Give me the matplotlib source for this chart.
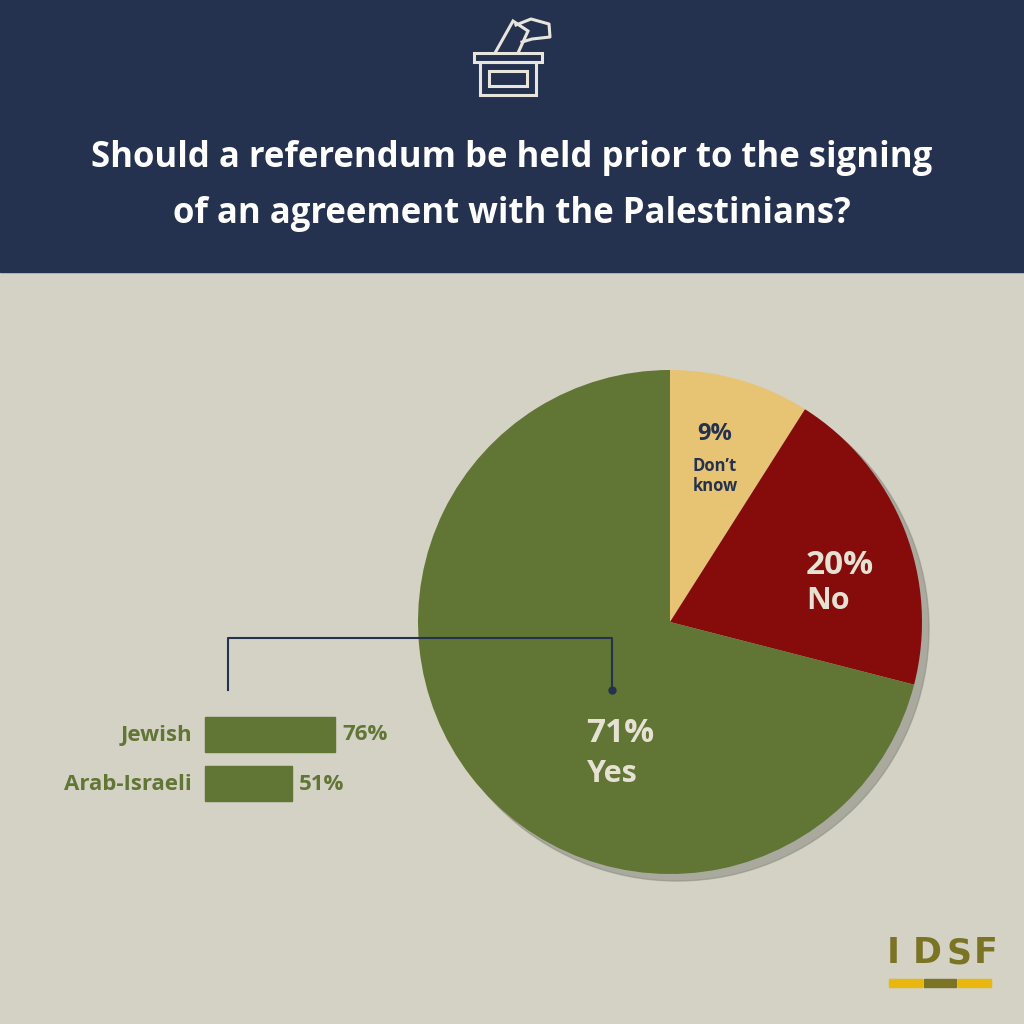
import matplotlib.pyplot as plt
from matplotlib.patches import Rectangle, Circle, Polygon

plt.rcParams['font.family'] = ['Open Sans', 'DejaVu Sans']

labels = ["Don\u2019t\nknow", "No", "Yes"]
shares = [9, 20, 71]
pie_colors = ["#e6c474", "#860c0c", "#617534"]

groups = ["Jewish", "Arab-Israeli"]
group_yes = [76, 51]

navy = "#243250"
bg = "#d3d2c5"
green = "#617534"

fig = plt.figure(figsize=(10.24, 10.24), dpi=100)
fig.patch.set_facecolor(bg)
ax = fig.add_axes([0, 0, 1, 1])
ax.set_xlim(0, 1024)
ax.set_ylim(0, 1024)
ax.set_aspect("equal")
ax.axis("off")

# header
ax.add_patch(Rectangle((0, 752), 1024, 272, color=navy, zorder=0))
ax.text(512, 866, "Should a referendum be held prior to the signing",
        ha="center", va="center", color="white", fontsize=25, fontweight="bold")
ax.text(512, 810, "of an agreement with the Palestinians?",
        ha="center", va="center", color="white", fontsize=25, fontweight="bold")

# ballot box icon
ic = "#e8e6dc"
ax.add_patch(Rectangle((474, 962), 68, 9, fill=False, ec=ic, lw=2.2))
ax.add_patch(Rectangle((480, 929), 56, 33, fill=False, ec=ic, lw=2.2))
ax.add_patch(Rectangle((489, 938), 38, 15, fill=False, ec=ic, lw=2.2))
ax.add_patch(Polygon([(495, 971), (513, 1003), (528, 993), (518, 971)], closed=False,
                     fill=False, ec=ic, lw=2.2))
ax.plot([516, 531, 549, 550, 532, 522], [999, 1005, 1000, 987, 985, 982], color=ic, lw=2.2)

# pie with shadow
cx, cy, r = 670, 402, 252
ax.add_patch(Circle((cx + 7, cy - 7), r, color="#8f8e84", alpha=0.6, zorder=1))
wedges, _ = ax.pie(shares, colors=pie_colors, startangle=90, counterclock=False,
                   radius=r, center=(cx, cy), frame=True)
for w in wedges:
    w.set_zorder(2)
ax.set_xlim(0, 1024)
ax.set_ylim(0, 1024)
ax.axis("off")

ax.text(715, 590, f"{shares[0]}%", ha="center", va="center", color=navy,
        fontsize=17, fontweight="bold", zorder=3)
ax.text(715, 548, labels[0], ha="center", va="center", color=navy,
        fontsize=12, fontweight="bold", linespacing=1.1, zorder=3)
ax.text(806, 459, f"{shares[1]}%", ha="left", va="center", color="#e6e2d3",
        fontsize=24, fontweight="bold", zorder=3)
ax.text(806, 423, labels[1], ha="left", va="center", color="#e6e2d3",
        fontsize=22, fontweight="bold", zorder=3)
ax.text(620, 290, f"{shares[2]}%", ha="center", va="center", color="#e6e2d3",
        fontsize=24, fontweight="bold", zorder=3)
ax.text(612, 250, labels[2], ha="center", va="center", color="#e6e2d3",
        fontsize=22, fontweight="bold", zorder=3)

# connector
ax.plot([228, 228, 612, 612], [334, 386, 386, 334], color=navy, lw=1.5, zorder=3)
ax.plot([612], [334], "o", color=navy, ms=5, zorder=3)

# breakdown bars
scale = 1.71
bar_y = [289, 240]
for g, v, y in zip(groups, group_yes, bar_y):
    ax.add_patch(Rectangle((205, y - 17), v * scale, 35, color=green, zorder=3))
    ax.text(192, y, g, ha="right", va="center", color=green, fontsize=16, fontweight="bold")
    ax.text(205 + v * scale + 7, y, f"{v}%", ha="left", va="center", color=green,
            fontsize=16, fontweight="bold")

# logo
olive = "#7a7424"
for ch, x in zip("IDSF", [893, 927, 959, 986]):
    ax.text(x, 71, ch, ha="center", va="center", color=olive, fontsize=25,
            fontweight="heavy", family="DejaVu Sans")
ax.add_patch(Rectangle((889, 37), 33, 8, color="#e8b811"))
ax.add_patch(Rectangle((924, 37), 32, 8, color=olive))
ax.add_patch(Rectangle((958, 37), 33, 8, color="#e8b811"))

fig.savefig("out.png", dpi=100, facecolor=bg)
